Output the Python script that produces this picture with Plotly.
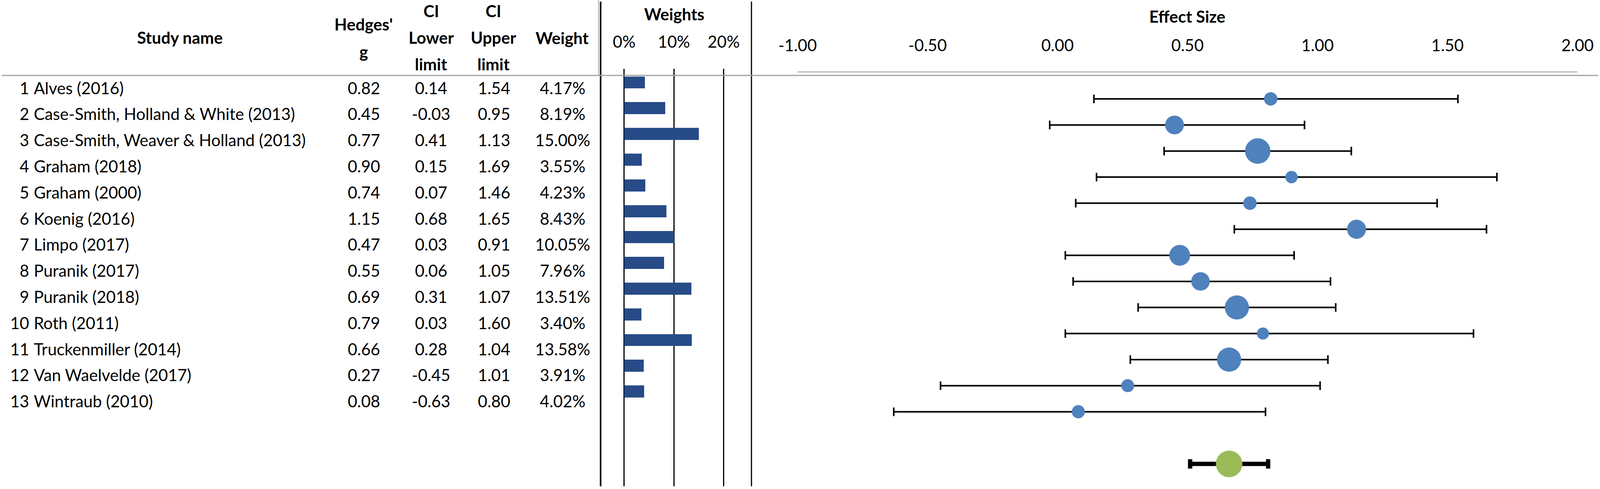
import plotly.graph_objects as go

# study data
studies = [
    "Alves (2016)", "Case-Smith, Holland & White (2013)", "Case-Smith, Weaver & Holland (2013)",
    "Graham (2018)", "Graham (2000)", "Koenig (2016)", "Limpo (2017)", "Puranik (2017)",
    "Puranik (2018)", "Roth (2011)", "Truckenmiller (2014)", "Van Waelvelde (2017)", "Wintraub (2010)",
]
hedges_g = [0.82, 0.45, 0.77, 0.90, 0.74, 1.15, 0.47, 0.55, 0.69, 0.79, 0.66, 0.27, 0.08]
ci_lower = [0.14, -0.03, 0.41, 0.15, 0.07, 0.68, 0.03, 0.06, 0.31, 0.03, 0.28, -0.45, -0.63]
ci_upper = [1.54, 0.95, 1.13, 1.69, 1.46, 1.65, 0.91, 1.05, 1.07, 1.60, 1.04, 1.01, 0.80]
weights = [4.17, 8.19, 15.00, 3.55, 4.23, 8.43, 10.05, 7.96, 13.51, 3.40, 13.58, 3.91, 4.02]

summary_g = [0.66]
summary_lower = [0.51]
summary_upper = [0.81]

effect_ticks = [-1.0, -0.5, 0.0, 0.5, 1.0, 1.5, 2.0]
effect_ticklabels = ["-1.00", "-0.50", "0.00", "0.50", "1.00", "1.50", "2.00"]
weight_ticks = [0, 10, 20]
weight_ticklabels = ["0%", "10%", "20%"]

# layout is measured on a 4550 x 1251 grid; the browser viewport is 4096 wide
REF_W, H = 4550, 1251
FIG_W = 4096
FONT = "Lato"
FS = 42
rows = list(range(len(studies)))
summary_row = [len(studies) + 1]


def px(x):
    return x / REF_W


def py(y):
    return 1 - y / H


def row_range(first_px, pitch, top_px, bottom_px):
    return [(bottom_px - first_px) / pitch, (top_px - first_px) / pitch]


fig = go.Figure()

# ---- table text
txt = dict(mode="text", xaxis="x3", yaxis="y3", showlegend=False, hoverinfo="skip", cliponaxis=False,
           textfont=dict(family=FONT, size=FS, color="black"))
fig.add_scatter(x=[83] * len(rows), y=rows, text=[str(i + 1) for i in rows], textposition="middle left", **txt)
fig.add_scatter(x=[96] * len(rows), y=rows, text=studies, textposition="middle right", **txt)
fig.add_scatter(x=[1035] * len(rows), y=rows, text=[f"{v:.2f}" for v in hedges_g], textposition="middle center", **txt)
fig.add_scatter(x=[1226] * len(rows), y=rows, text=[f"{v:.2f}" for v in ci_lower], textposition="middle center", **txt)
fig.add_scatter(x=[1405] * len(rows), y=rows, text=[f"{v:.2f}" for v in ci_upper], textposition="middle center", **txt)
fig.add_scatter(x=[1600] * len(rows), y=rows, text=[f"{v:.2f}%" for v in weights], textposition="middle center", **txt)

# ---- weight bars
fig.add_bar(x=weights, y=rows, orientation="h", width=0.47, marker=dict(color="#274B87", line_width=0),
            xaxis="x2", yaxis="y2", showlegend=False, hoverinfo="skip")

# ---- forest plot
fig.add_scatter(
    x=hedges_g, y=rows, mode="markers", xaxis="x", yaxis="y", showlegend=False,
    marker=dict(color="#4F81BD", size=[16.8 * w ** 0.5 for w in weights], line_width=0, opacity=1),
    error_x=dict(type="data", symmetric=False,
                 array=[u - g for u, g in zip(ci_upper, hedges_g)],
                 arrayminus=[g - l for g, l in zip(hedges_g, ci_lower)],
                 color="black", thickness=4, width=11),
)
fig.add_scatter(
    x=summary_g, y=summary_row, mode="markers", xaxis="x", yaxis="y", showlegend=False,
    marker=dict(color="#9BBB59", size=68, line_width=0, opacity=1),
    error_x=dict(type="data", symmetric=False,
                 array=[u - g for u, g in zip(summary_upper, summary_g)],
                 arrayminus=[g - l for g, l in zip(summary_g, summary_lower)],
                 color="black", thickness=11, width=12),
)

tickfont = dict(family=FONT, size=FS, color="black")
fig.update_layout(
    width=FIG_W, height=H, margin=dict(l=0, r=0, t=0, b=0, pad=0), autosize=False,
    paper_bgcolor="white", plot_bgcolor="rgba(0,0,0,0)",
    xaxis=dict(domain=[px(2268), px(4486)], range=[-1, 2], side="top", anchor="y",
               tickvals=effect_ticks, ticktext=effect_ticklabels, tickfont=tickfont,
               showgrid=False, zeroline=False, ticks="", ticklabelstandoff=34, automargin=False,
               showline=True, linecolor="#C8C8C8", linewidth=4),
    yaxis=dict(domain=[0, py(186)], range=row_range(253, 66.7, 186, H), visible=False, anchor="x"),
    xaxis2=dict(domain=[px(1707), px(2137)], range=[(1707 - 1775) / 14.15, (2137 - 1775) / 14.15],
                side="top", anchor="y2", tickvals=weight_ticks, ticktext=weight_ticklabels, tickfont=tickfont,
                showgrid=True, gridcolor="black", gridwidth=3, zeroline=False, ticks="", automargin=False,
                ticklabelstandoff=45, showline=False),
    yaxis2=dict(domain=[py(1244), py(176)], range=row_range(211, 65.9, 176, 1244), visible=False, anchor="x2"),
    xaxis3=dict(domain=[0, 1], range=[0, REF_W], visible=False, anchor="y3"),
    yaxis3=dict(domain=[0, 1], range=row_range(230, 66.8, 0, H), visible=False, anchor="x3"),
    bargap=0,
)

# frame lines
fig.add_shape(type="line", xref="paper", yref="paper", x0=px(1702), x1=px(1702), y0=py(0), y1=py(192),
              line=dict(color="#A6A6A6", width=2))
fig.add_shape(type="line", xref="paper", yref="paper", x0=px(1708), x1=px(1708), y0=py(4), y1=py(1244),
              line=dict(color="black", width=4))
fig.add_shape(type="line", xref="paper", yref="paper", x0=px(2137), x1=px(2137), y0=py(4), y1=py(1244),
              line=dict(color="black", width=3))
fig.add_shape(type="line", xref="paper", yref="paper", x0=px(5), x1=px(4545), y0=py(193), y1=py(193),
              line=dict(color="#A0A0A0", width=3))

# header texts
headers = [
    ("Study name", 511, 96), ("Hedges'", 1034, 62), ("g", 1034, 132),
    ("CI", 1226, 28), ("Lower", 1226, 96), ("limit", 1226, 164),
    ("CI", 1403, 28), ("Upper", 1403, 96), ("limit", 1403, 164),
    ("Weight", 1598, 97), ("Weights", 1917, 36), ("Effect Size", 3376, 42),
]
for label, hx, hy in headers:
    fig.add_annotation(text=f"<b>{label}</b>", x=px(hx), y=py(hy), xref="paper", yref="paper",
                       showarrow=False, xanchor="center", yanchor="middle",
                       font=dict(family=FONT, size=FS, color="black"))

fig.write_html("out.html", config={"displayModeBar": False},
               post_script="document.body.style.margin='0';")
